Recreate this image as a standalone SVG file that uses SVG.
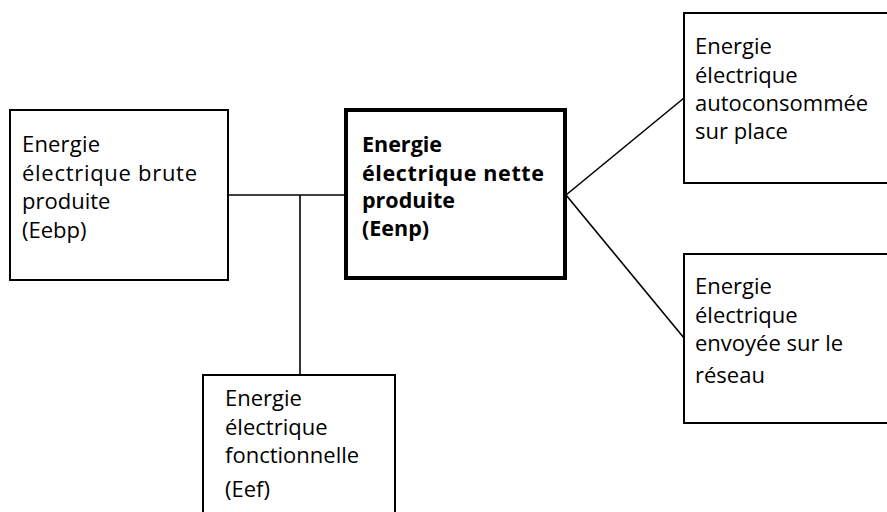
<svg xmlns="http://www.w3.org/2000/svg" width="887" height="512" viewBox="0 0 887 512">
  <style>
    .box { fill: #ffffff; stroke: #000000; stroke-width: 2; }
    .main { fill: #ffffff; stroke: #000000; stroke-width: 4; }
    .lbl { font-family: "Open Sans", "Noto Sans", "DejaVu Sans", sans-serif; font-size: 22px; fill: #000000; }
    .bold { font-weight: bold; font-size: 21.5px; }
    .link { stroke: #000000; stroke-width: 1.6; fill: none; }
  </style>
  <rect width="887" height="512" fill="#ffffff"/>

  <!-- connectors -->
  <g id="connectors">
    <line class="link" x1="228" y1="195" x2="346" y2="195"/>
    <line class="link" x1="300" y1="195" x2="300" y2="375"/>
    <line class="link" x1="566" y1="195" x2="684" y2="98"/>
    <line class="link" x1="566" y1="195" x2="684" y2="338"/>
  </g>

  <!-- gross production -->
  <g id="eebp">
    <rect class="box" x="10" y="110" width="218" height="170"/>
    <text class="lbl" x="22" y="152" textLength="78">Energie</text>
    <text class="lbl" x="22" y="181" textLength="175">électrique brute</text>
    <text class="lbl" x="22" y="209">produite</text>
    <text class="lbl" x="22" y="238">(Eebp)</text>
  </g>

  <!-- net production -->
  <g id="eenp">
    <rect class="main" x="346" y="110" width="219" height="168"/>
    <text class="lbl bold" x="362" y="152">Energie</text>
    <text class="lbl bold" x="362" y="181" textLength="182">électrique nette</text>
    <text class="lbl bold" x="362" y="208">produite</text>
    <text class="lbl bold" x="362" y="236">(Eenp)</text>
  </g>

  <!-- self-consumption -->
  <g id="autoconso">
    <rect class="box" x="684" y="13" width="220" height="170"/>
    <text class="lbl" x="695" y="54">Energie</text>
    <text class="lbl" x="695" y="83">électrique</text>
    <text class="lbl" x="695" y="111">autoconsommée</text>
    <text class="lbl" x="695" y="139">sur place</text>
  </g>

  <!-- grid injection -->
  <g id="reseau">
    <rect class="box" x="684" y="254" width="220" height="169"/>
    <text class="lbl" x="695" y="294">Energie</text>
    <text class="lbl" x="695" y="323">électrique</text>
    <text class="lbl" x="695" y="351">envoyée sur le</text>
    <text class="lbl" x="695" y="383">réseau</text>
  </g>

  <!-- auxiliary consumption -->
  <g id="eef">
    <rect class="box" x="203" y="375" width="192" height="160"/>
    <text class="lbl" x="225" y="406">Energie</text>
    <text class="lbl" x="225" y="435">électrique</text>
    <text class="lbl" x="225" y="463">fonctionnelle</text>
    <text class="lbl" x="225" y="497">(Eef)</text>
  </g>
</svg>
